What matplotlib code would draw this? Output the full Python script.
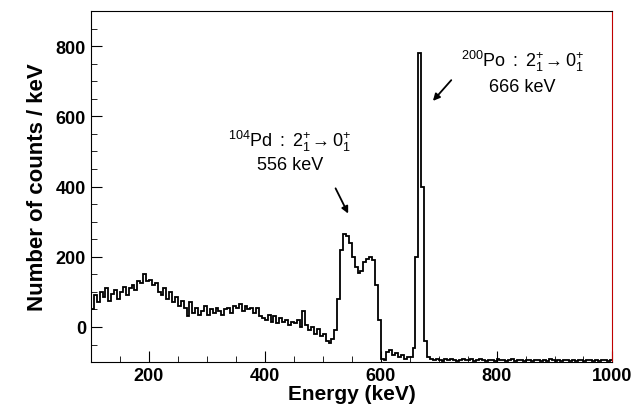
import numpy as np
import matplotlib
matplotlib.use("Agg")
import matplotlib.pyplot as plt
from matplotlib.ticker import MultipleLocator

energy_start = 100
bin_width = 5
counts = [50,90,70,100,85,110,75,95,105,80,100,115,90,110,120,105,130,125,150,130,
          135,120,125,100,90,110,80,100,70,85,60,75,55,30,70,40,55,35,45,60,
          35,50,40,55,45,35,50,55,40,60,55,65,45,60,50,55,40,55,30,25,
          20,35,15,30,10,25,15,20,5,15,10,20,0,45,5,-10,0,-20,-5,-25,
          -20,-40,-45,-35,-10,80,220,265,260,240,200,170,155,160,185,195,200,190,120,20,
          -90,-95,-70,-65,-80,-75,-85,-80,-90,-85,-85,-60,200,780,400,-40,-85,-92,-95,-90,
          -94,-96,-92,-95,-90,-93,-96,-94,-91,-95,-93,-90,-96,-94,-92,-95,-97,-93,-94,-96,
          -92,-95,-93,-97,-94,-92,-96,-95,-93,-97,-94,-95,-96,-93,-95,-97,-94,-96,-92,-95,
          -96,-94,-97,-93,-95,-96,-94,-97,-95,-93,-96,-94,-95,-97,-93,-96,-95,-94,-97,-95]
edges = energy_start + bin_width*np.arange(len(counts)+1)

plt.rcParams['font.family'] = ['Liberation Sans', 'DejaVu Sans']
plt.rcParams['mathtext.fontset'] = 'custom'
plt.rcParams['mathtext.rm'] = 'Liberation Sans'
plt.rcParams['mathtext.it'] = 'Liberation Sans'
fig = plt.figure(figsize=(6.34, 4.14), dpi=100)
ax = fig.add_axes([0.1435, 0.123, 0.8225, 0.848])
ax.stairs(counts, edges, color='black', lw=1.3, baseline=None)
ax.set_xlim(100, 1000)
ax.set_ylim(-100, 900)
ax.xaxis.set_major_locator(MultipleLocator(200))
ax.xaxis.set_minor_locator(MultipleLocator(50))
ax.yaxis.set_major_locator(MultipleLocator(200))
ax.yaxis.set_minor_locator(MultipleLocator(50))
ax.tick_params(which='both', direction='in', top=False, right=False)
ax.tick_params(which='major', length=8, labelsize=13)
ax.tick_params(which='minor', length=4)
for l in ax.get_xticklabels() + ax.get_yticklabels():
    l.set_fontweight('bold')
ax.spines['right'].set_color('#c00000')
ax.set_xlabel('Energy (keV)', fontsize=15, fontweight='bold', labelpad=0)
ax.set_ylabel('Number of counts / keV', fontsize=16, fontweight='bold', labelpad=6)

ax.text(443, 530, r'$\mathrm{^{104}Pd\ :\ 2_1^{+}\!\rightarrow 0_1^{+}}$', ha='center', va='center', fontsize=13)
ax.text(443, 462, '556 keV', ha='center', va='center', fontsize=13)
ax.text(845, 758, r'$\mathrm{^{200}Po\ :\ 2_1^{+}\!\rightarrow 0_1^{+}}$', ha='center', va='center', fontsize=13)
ax.text(845, 684, '666 keV', ha='center', va='center', fontsize=13)
ax.annotate('', xy=(546, 316), xytext=(520, 402), arrowprops=dict(arrowstyle='-|>', color='black', lw=1.3))
ax.annotate('', xy=(687, 638), xytext=(725, 709), arrowprops=dict(arrowstyle='-|>', color='black', lw=1.3))
fig.savefig('out.png', dpi=100)
